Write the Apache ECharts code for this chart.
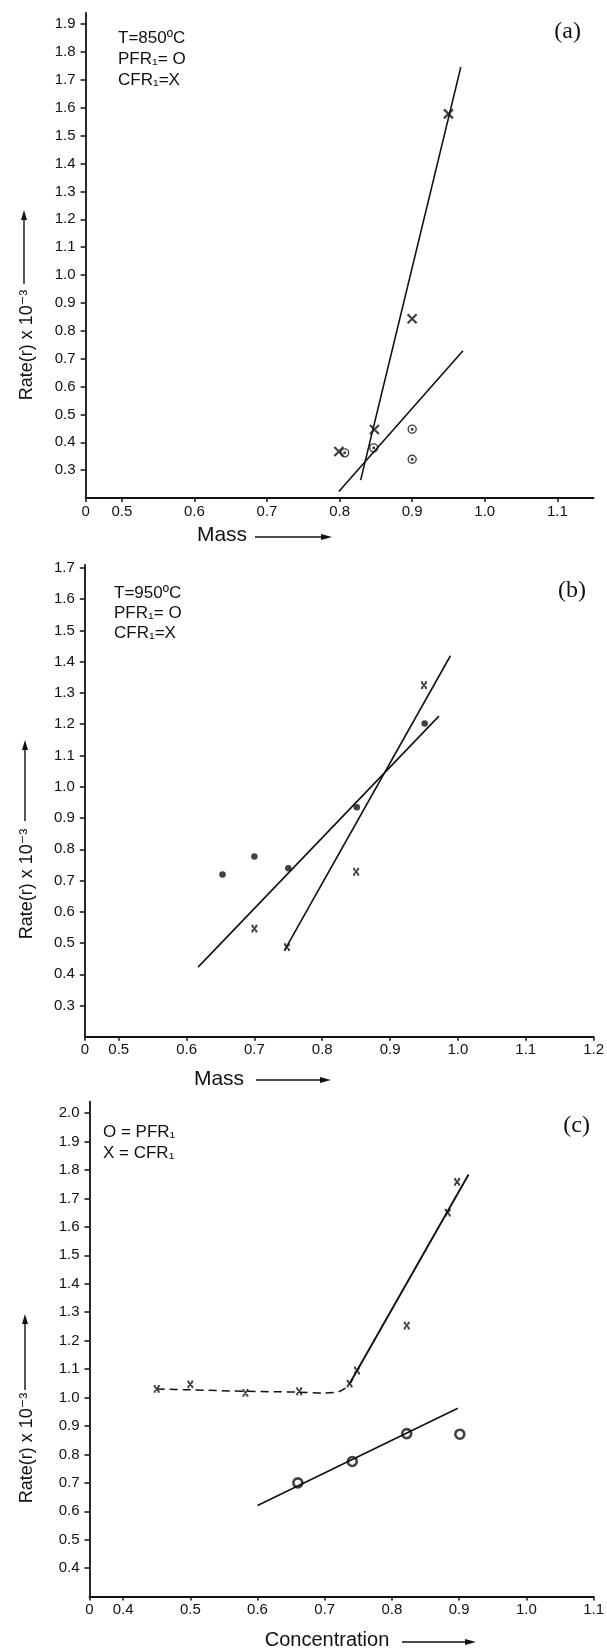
<!DOCTYPE html>
<html>
<head>
<meta charset="utf-8">
<script src="https://cdn.jsdelivr.net/npm/echarts@6/dist/echarts.min.js"></script>
<style>
html,body{margin:0;padding:0;background:#fff;}
#c{width:607px;height:1648px;}
</style>
</head>
<body>
<div id="c"></div>
<script>
// ---------- data ----------
// Panel (a): T=850 C, x = Mass
const aXTicks = [0.45, 0.5, 0.6, 0.7, 0.8, 0.9, 1.0, 1.1];
const aXLabels = ['0', '0.5', '0.6', '0.7', '0.8', '0.9', '1.0', '1.1'];
const aYTicks = [0.3, 0.4, 0.5, 0.6, 0.7, 0.8, 0.9, 1.0, 1.1, 1.2, 1.3, 1.4, 1.5, 1.6, 1.7, 1.8, 1.9];
const aPFR = [[0.807, 0.362], [0.847, 0.38], [0.90, 0.447], [0.90, 0.339]];
const aCFR = [[0.799, 0.367], [0.848, 0.446], [0.90, 0.843], [0.95, 1.578]];
const aPFRLine = [[0.799, 0.223], [0.970, 0.728]];
const aCFRLine = [[0.829, 0.264], [0.967, 1.746]];

// Panel (b): T=950 C, x = Mass
const bXTicks = [0.45, 0.5, 0.6, 0.7, 0.8, 0.9, 1.0, 1.1, 1.2];
const bXLabels = ['0', '0.5', '0.6', '0.7', '0.8', '0.9', '1.0', '1.1', '1.2'];
const bYTicks = [0.3, 0.4, 0.5, 0.6, 0.7, 0.8, 0.9, 1.0, 1.1, 1.2, 1.3, 1.4, 1.5, 1.6, 1.7];
const bPFR = [[0.653, 0.719], [0.70, 0.777], [0.75, 0.739], [0.851, 0.934], [0.951, 1.202]];
const bCFR = [[0.70, 0.546], [0.748, 0.487], [0.85, 0.728], [0.95, 1.325]];
const bPFRLine = [[0.617, 0.423], [0.972, 1.226]];
const bCFRLine = [[0.745, 0.479], [0.989, 1.419]];

// Panel (c): x = Concentration
const cXTicks = [0.35, 0.4, 0.5, 0.6, 0.7, 0.8, 0.9, 1.0, 1.1];
const cXLabels = ['0', '0.4', '0.5', '0.6', '0.7', '0.8', '0.9', '1.0', '1.1'];
const cYTicks = [0.4, 0.5, 0.6, 0.7, 0.8, 0.9, 1.0, 1.1, 1.2, 1.3, 1.4, 1.5, 1.6, 1.7, 1.8, 1.9, 2.0];
const cPFR = [[0.66, 0.70], [0.741, 0.775], [0.822, 0.873], [0.901, 0.871]];
const cCFR = [[0.45, 1.03], [0.50, 1.046], [0.582, 1.016], [0.662, 1.022], [0.737, 1.049], [0.748, 1.095], [0.822, 1.253], [0.883, 1.65], [0.897, 1.758]];
const cPFRLine = [[0.60, 0.62], [0.898, 0.962]];
const cCFRLine = [[0.738, 1.053], [0.914, 1.784]];
const cCFRDash = [[0.45, 1.03], [0.50, 1.027], [0.58, 1.022], [0.66, 1.019], [0.70, 1.016], [0.72, 1.02], [0.73, 1.032], [0.738, 1.053]];

// ---------- styling ----------
const INK = '#111';
const SANS = '"Liberation Sans", Arial, "DejaVu Sans", sans-serif';
const SERIF = '"Liberation Serif", "DejaVu Serif", serif';

const grids = [
  {left: 85.6, top: 13, width: 508, height: 485},
  {left: 84.8, top: 564.8, width: 515.6, height: 472},
  {left: 89.5, top: 1101.7, width: 507.8, height: 494.9}
];

function xAx(gi, min, max, ticks, labels) {
  return {
    type: 'value', gridIndex: gi, min: min, max: max,
    axisLine: {show: true, onZero: false, lineStyle: {color: INK, width: 1.8}},
    axisTick: {show: true, length: 4, customValues: ticks, lineStyle: {color: INK, width: 1.5}},
    axisLabel: {
      customValues: ticks, margin: 6, color: INK, fontSize: 15, fontFamily: SANS,
      formatter: function (v) {
        for (let i = 0; i < ticks.length; i++) if (Math.abs(ticks[i] - v) < 1e-6) return labels[i];
        return '';
      }
    },
    splitLine: {show: false}
  };
}
function yAx(gi, min, max, ticks) {
  return {
    type: 'value', gridIndex: gi, min: min, max: max,
    axisLine: {show: true, onZero: false, lineStyle: {color: INK, width: 1.8}},
    axisTick: {show: true, length: 5, customValues: ticks, lineStyle: {color: INK, width: 1.5}},
    axisLabel: {
      customValues: ticks, margin: 10, color: INK, fontSize: 15, fontFamily: SANS,
      formatter: function (v) { return v.toFixed(1); }
    },
    splitLine: {show: false}
  };
}

const xSym = 'path://M0,0L10,10M10,0L0,10';
const xSymSerif = 'path://M0,0L10,10M10,0L0,10M-1,0L3,0M7,0L11,0M-1,10L3,10M7,10L11,10';
const ringDot = 'path://M10,5A5,5,0,1,1,0,5A5,5,0,1,1,10,5ZM6,5A1,1,0,1,1,4,5A1,1,0,1,1,6,5Z';

function lineSeries(gi, data, extra) {
  return Object.assign({
    type: 'line', xAxisIndex: gi, yAxisIndex: gi, data: data,
    symbol: 'none', showSymbol: false, silent: true,
    lineStyle: {color: INK, width: 1.6}
  }, extra || {});
}
function scatterSeries(gi, data, symbol, size, itemStyle) {
  return {
    type: 'scatter', xAxisIndex: gi, yAxisIndex: gi, data: data,
    symbol: symbol, symbolSize: size, silent: true, itemStyle: itemStyle
  };
}

const strokeOnly = function (w) { return {color: 'rgba(0,0,0,0)', borderColor: INK, borderWidth: w}; };

const series = [
  // (a)
  lineSeries(0, aPFRLine),
  lineSeries(0, aCFRLine),
  scatterSeries(0, aPFR, ringDot, 8, strokeOnly(1.4)),
  scatterSeries(0, aCFR, xSym, 9, strokeOnly(2.2)),
  // (b)
  lineSeries(1, bPFRLine),
  lineSeries(1, bCFRLine),
  scatterSeries(1, bPFR, 'circle', 6.5, {color: INK}),
  scatterSeries(1, bCFR, xSymSerif, 6, strokeOnly(1.8)),
  // (c)
  lineSeries(2, cPFRLine),
  lineSeries(2, cCFRLine, {lineStyle: {color: INK, width: 1.9}}),
  lineSeries(2, cCFRDash, {smooth: 0.3, lineStyle: {color: INK, width: 1.5, type: [8, 5]}}),
  scatterSeries(2, cPFR, 'circle', 9, {color: '#fff', borderColor: INK, borderWidth: 2.6}),
  scatterSeries(2, cCFR, xSymSerif, 6, strokeOnly(1.8))
];

// ---------- decorations ----------
function txt(x, y, s, size, opts) {
  return Object.assign({
    type: 'text', x: x, y: y, silent: true,
    style: Object.assign({text: s, fill: INK, font: size + 'px ' + SANS, align: 'left', verticalAlign: 'middle'}, (opts && opts.style) || {})
  }, (opts && opts.el) || {});
}
function arrowUp(x, y1, y2) { // line from y1 (bottom) to y2 (tip)
  return [
    {type: 'line', silent: true, shape: {x1: x, y1: y1, x2: x, y2: y2 + 8}, style: {stroke: INK, lineWidth: 1.4}},
    {type: 'polygon', silent: true, shape: {points: [[x, y2], [x - 3, y2 + 10], [x + 3, y2 + 10]]}, style: {fill: INK}}
  ];
}
function arrowRight(x1, x2, y) {
  return [
    {type: 'line', silent: true, shape: {x1: x1, y1: y, x2: x2 - 8, y2: y}, style: {stroke: INK, lineWidth: 1.4}},
    {type: 'polygon', silent: true, shape: {points: [[x2, y], [x2 - 11, y - 3], [x2 - 11, y + 3]]}, style: {fill: INK}}
  ];
}
function yName(cx, cy) {
  return {
    type: 'text', x: cx, y: cy, rotation: Math.PI / 2, silent: true,
    style: {text: 'Rate(r) x 10⁻³', fill: INK, font: '18px ' + SANS, align: 'center', verticalAlign: 'middle'}
  };
}

const graphics = [].concat(
  // (a)
  [txt(118, 38, 'T=850ºC', 17), txt(118, 59, 'PFR₁= O', 17), txt(118, 80, 'CFR₁=X', 17)],
  [txt(581, 32, '(a)', 24, {style: {font: '24px ' + SERIF, align: 'right'}})],
  [yName(27, 345)], arrowUp(24, 284, 210),
  [txt(222, 535, 'Mass', 21, {style: {align: 'center'}})], arrowRight(255, 332, 537),
  // (b)
  [txt(114, 593, 'T=950ºC', 17), txt(114, 613, 'PFR₁= O', 17), txt(114, 633.5, 'CFR₁=X', 17)],
  [txt(586, 591, '(b)', 24, {style: {font: '24px ' + SERIF, align: 'right'}})],
  [yName(27, 884)], arrowUp(25, 821, 740),
  [txt(219, 1079, 'Mass', 21, {style: {align: 'center'}})], arrowRight(256, 331, 1080),
  // (c)
  [txt(103, 1132, 'O = PFR₁', 17), txt(103, 1153, 'X = CFR₁', 17)],
  [txt(590, 1126, '(c)', 24, {style: {font: '24px ' + SERIF, align: 'right'}})],
  [yName(27, 1448)], arrowUp(25, 1390, 1314),
  [txt(327, 1640, 'Concentration', 20, {style: {align: 'center'}})], arrowRight(402, 476, 1642)
);

const chart = echarts.init(document.getElementById('c'), null, {renderer: 'canvas'});
chart.setOption({
  animation: false,
  backgroundColor: '#fff',
  grid: grids,
  xAxis: [
    xAx(0, 0.45, 1.15, aXTicks, aXLabels),
    xAx(1, 0.45, 1.2, bXTicks, bXLabels),
    xAx(2, 0.35, 1.1, cXTicks, cXLabels)
  ],
  yAxis: [
    yAx(0, 0.2, 1.94, aYTicks),
    yAx(1, 0.2, 1.71, bYTicks),
    yAx(2, 0.3, 2.04, cYTicks)
  ],
  series: series,
  graphic: graphics
});
</script>
</body>
</html>
